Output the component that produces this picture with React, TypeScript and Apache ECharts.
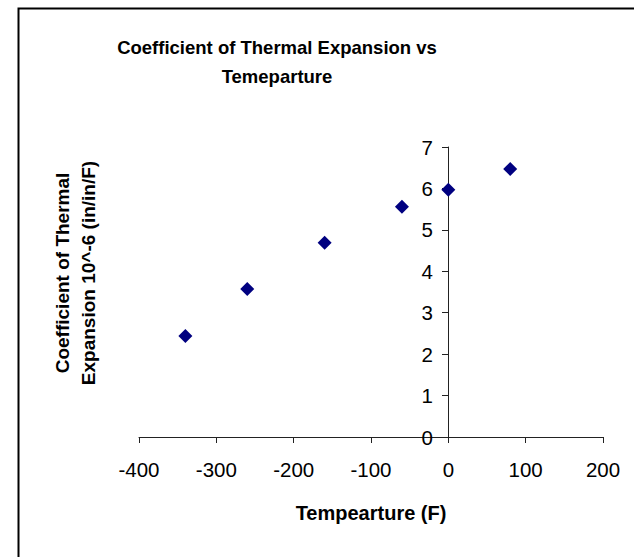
import React, { useEffect, useRef } from "react";
import * as echarts from "echarts";

const titleLines = ["Coefficient of Thermal Expansion vs", "Temeparture"];
const xAxisTitle = "Tempearture (F)";
const yAxisTitleLines = ["Coefficient of Thermal", "Expansion 10^-6 (in/in/F)"];
const temperatures = [-340, -260, -160, -60, 0, 80];
const coefficients = [2.44, 3.57, 4.69, 5.56, 5.97, 6.47];

const FONT = "'Liberation Sans', Arial, sans-serif";

export default function App() {
  const ref = useRef<HTMLDivElement>(null);
  useEffect(() => {
    if (!ref.current) return;
    const chart = echarts.init(ref.current, undefined, { renderer: "svg" });
    const textStyle = (text: string, size = 18.5) => ({
      text,
      fontFamily: FONT,
      fontWeight: "bold",
      fontSize: size,
      fill: "#000",
      textAlign: "center",
      textVerticalAlign: "middle",
    });
    chart.setOption({
      animation: false,
      backgroundColor: "#ffffff",
      grid: { left: 139, right: 31, top: 147, bottom: 120, containLabel: false },
      xAxis: {
        type: "value",
        min: -400,
        max: 200,
        interval: 100,
        name: xAxisTitle,
        nameLocation: "middle",
        nameGap: 66,
        nameTextStyle: { fontFamily: FONT, fontWeight: "bold", fontSize: 20, color: "#000" },
        axisLine: { onZero: false, lineStyle: { color: "#222", width: 1 } },
        axisTick: { show: true, inside: false, length: 6, lineStyle: { color: "#222" } },
        axisLabel: { fontFamily: FONT, fontSize: 20.5, color: "#000", margin: 22 },
        splitLine: { show: false },
      },
      yAxis: {
        type: "value",
        min: 0,
        max: 7,
        interval: 1,
        position: "left",
        offset: -309,
        axisLine: { show: true, onZero: false, lineStyle: { color: "#222", width: 1 } },
        axisTick: { show: true, inside: false, length: 6, lineStyle: { color: "#222" } },
        axisLabel: { fontFamily: FONT, fontSize: 20.5, color: "#000", margin: 15 },
        splitLine: { show: false },
      },
      graphic: [
        {
          type: "rect",
          shape: { x: 18.5, y: 8.5, width: 700, height: 700 },
          style: { fill: "none", stroke: "#000", lineWidth: 2 },
          silent: true,
        },
        { type: "text", x: 277, y: 47, style: textStyle(titleLines[0]) },
        { type: "text", x: 277, y: 76, style: textStyle(titleLines[1]) },
        { type: "text", x: 62, y: 273, rotation: Math.PI / 2, style: textStyle(yAxisTitleLines[0], 19) },
        { type: "text", x: 88, y: 273, rotation: Math.PI / 2, style: textStyle(yAxisTitleLines[1], 19) },
      ],
      series: [
        {
          type: "scatter",
          symbol: "diamond",
          symbolSize: 14,
          itemStyle: { color: "#000080", opacity: 1 },
          data: temperatures.map((t, i) => [t, coefficients[i]]),
        },
      ],
    });
    return () => chart.dispose();
  }, []);
  return (
    <div
      ref={ref}
      style={{ position: "fixed", left: 0, top: 0, width: 634, height: 557 }}
    />
  );
}
